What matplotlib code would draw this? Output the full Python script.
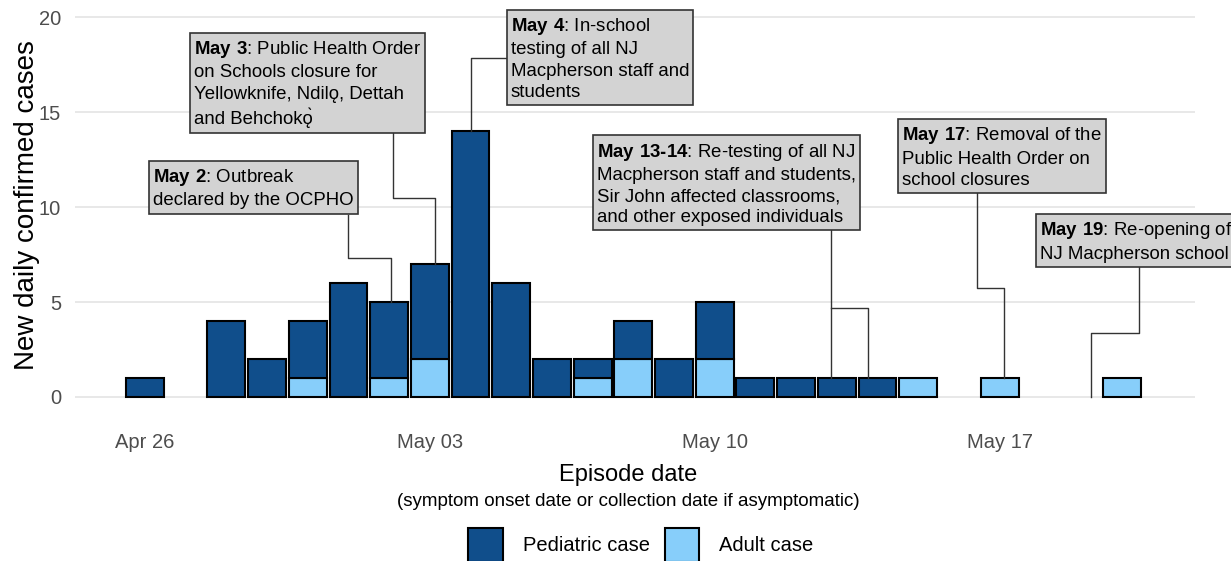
import numpy as np
import pandas as pd
import matplotlib
matplotlib.use('Agg')
import matplotlib.pyplot as plt
import matplotlib.dates as mdates
from matplotlib.patches import Patch

plt.rcParams['font.family'] = ['Liberation Sans', 'DejaVu Sans']
plt.rcParams['mathtext.fontset'] = 'custom'
plt.rcParams['mathtext.rm'] = 'Liberation Sans'
plt.rcParams['mathtext.bf'] = 'Liberation Sans:bold'

# daily case counts by episode date
episode_dates = ['2021-04-26', '2021-04-28', '2021-04-29', '2021-04-30', '2021-05-01',
                 '2021-05-02', '2021-05-03', '2021-05-04', '2021-05-05', '2021-05-06',
                 '2021-05-07', '2021-05-08', '2021-05-09', '2021-05-10', '2021-05-11',
                 '2021-05-12', '2021-05-13', '2021-05-14', '2021-05-15', '2021-05-17',
                 '2021-05-20']
pediatric = [1, 4, 2, 3, 6, 4, 5, 14, 6, 2, 1, 2, 2, 3, 1, 1, 1, 1, 0, 0, 0]
adult = [0, 0, 0, 1, 0, 1, 2, 0, 0, 0, 1, 2, 0, 2, 0, 0, 0, 0, 1, 1, 1]
series_names = ['Pediatric case', 'Adult case']
tick_dates = ['2021-04-26', '2021-05-03', '2021-05-10', '2021-05-17']

# event labels (bold prefix, rest of text)
event_heads = ['May 2', 'May 3', 'May 4', 'May 13\u201114', 'May 17', 'May 19']
event_texts = [': Outbreak\ndeclared by the OCPHO',
               ': Public Health Order\non Schools closure for\nYellowknife, Ndil\u01eb, Dettah\nand Behchok\u01eb\u0300',
               ': In-school\ntesting of all NJ\nMacpherson staff and\nstudents',
               ': Re-testing of all NJ\nMacpherson staff and students,\nSir John affected classrooms,\nand other exposed individuals',
               ': Removal of the\nPublic Health Order on\nschool closures',
               ': Re-opening of\nNJ Macpherson school']

ped_color = '#104E8B'
adult_color = '#87CEFA'

x = mdates.date2num(pd.to_datetime(episode_dates))
base = x[0]
pediatric = np.array(pediatric)
adult = np.array(adult)
total = pediatric + adult

fig = plt.figure(figsize=(12.31, 5.61), dpi=100)
ax = fig.add_axes([0.0609, 0.2585, 0.9098, 0.7415])

m = adult > 0
ax.bar(x[m], adult[m], width=0.93, color=adult_color, edgecolor='black', linewidth=1.5, zorder=3)
m = pediatric > 0
ax.bar(x[m], pediatric[m], bottom=adult[m], width=0.93, color=ped_color,
       edgecolor='black', linewidth=1.5, zorder=3)

ax.set_ylim(-1, 20.9)
ax.set_xlim(base - 1.72, base + 25.8)
ax.set_yticks([0, 5, 10, 15, 20])
ax.set_xticks(mdates.date2num(pd.to_datetime(tick_dates)))
ax.xaxis.set_major_formatter(mdates.DateFormatter('%b %d'))
ax.grid(axis='y', color='#e6e6e6', linewidth=1.3, zorder=0)
ax.tick_params(length=0, labelsize=14.5, labelcolor='#4d4d4d')
ax.tick_params(axis='y', pad=10)
ax.tick_params(axis='x', pad=12)
for s in ax.spines.values():
    s.set_visible(False)

# annotation boxes: (text left in days, text top in cases)
box_pos = [(0.2, 12.1), (1.2, 18.85), (8.99, 20.06), (11.1, 13.45), (18.6, 14.3), (22.0, 9.3)]
for head, rest, (bx, by) in zip(event_heads, event_texts, box_pos):
    label = r'$\bf{' + head.replace(' ', r'\ ') + '}$' + rest
    ax.text(base + bx, by, label, ha='left', va='top', fontsize=13.4, linespacing=1.33,
            color='black', zorder=5, clip_on=False,
            bbox=dict(boxstyle='square,pad=0.22', fc='#d3d3d3', ec='#333333', lw=1.2))

# connector lines: (x path in days, y path in cases) ending at bar tops
def connector(xs, ys):
    ax.plot(base + np.array(xs), ys, color='#333333', lw=1.0, zorder=4, clip_on=False)

day = lambda d: int(np.where(x == base + d)[0][0])
connector([4.99, 4.99, 6.04, 6.04], [9.58, 7.32, 7.32, total[day(6)]])
connector([6.09, 6.09, 7.12, 7.12], [14.05, 10.47, 10.47, total[day(7)]])
connector([8.89, 8.01, 8.01], [17.84, 17.84, total[day(8)]])
connector([16.85, 16.85], [8.8, total[day(17)]])
connector([16.85, 17.76, 17.76], [4.68, 4.68, total[day(18)]])
connector([20.44, 20.44, 21.12, 21.12], [10.75, 5.74, 5.74, total[day(21)]])
connector([24.42, 24.42, 23.24, 23.24], [6.85, 3.37, 3.37, 0])

fig.text(27 / 1231, 1 - 205 / 561, 'New daily confirmed cases', rotation=90,
         ha='center', va='center', fontsize=20)
fig.text(628 / 1231, 1 - 475 / 561, 'Episode date', ha='center', va='center', fontsize=17)
fig.text(628 / 1231, 1 - 501 / 561, '(symptom onset date or collection date if asymptomatic)',
         ha='center', va='center', fontsize=13.5)

handles = [Patch(facecolor=ped_color, edgecolor='black', linewidth=1.5),
           Patch(facecolor=adult_color, edgecolor='black', linewidth=1.5)]
fig.legend(handles, series_names, ncol=2, loc='center', bbox_to_anchor=(641 / 1231, 1 - 545 / 561),
           frameon=False, fontsize=14.5, handlelength=1.7, handleheight=2.24,
           handletextpad=1.0, columnspacing=0.75, borderpad=0)

fig.savefig('out.png', dpi=100)
